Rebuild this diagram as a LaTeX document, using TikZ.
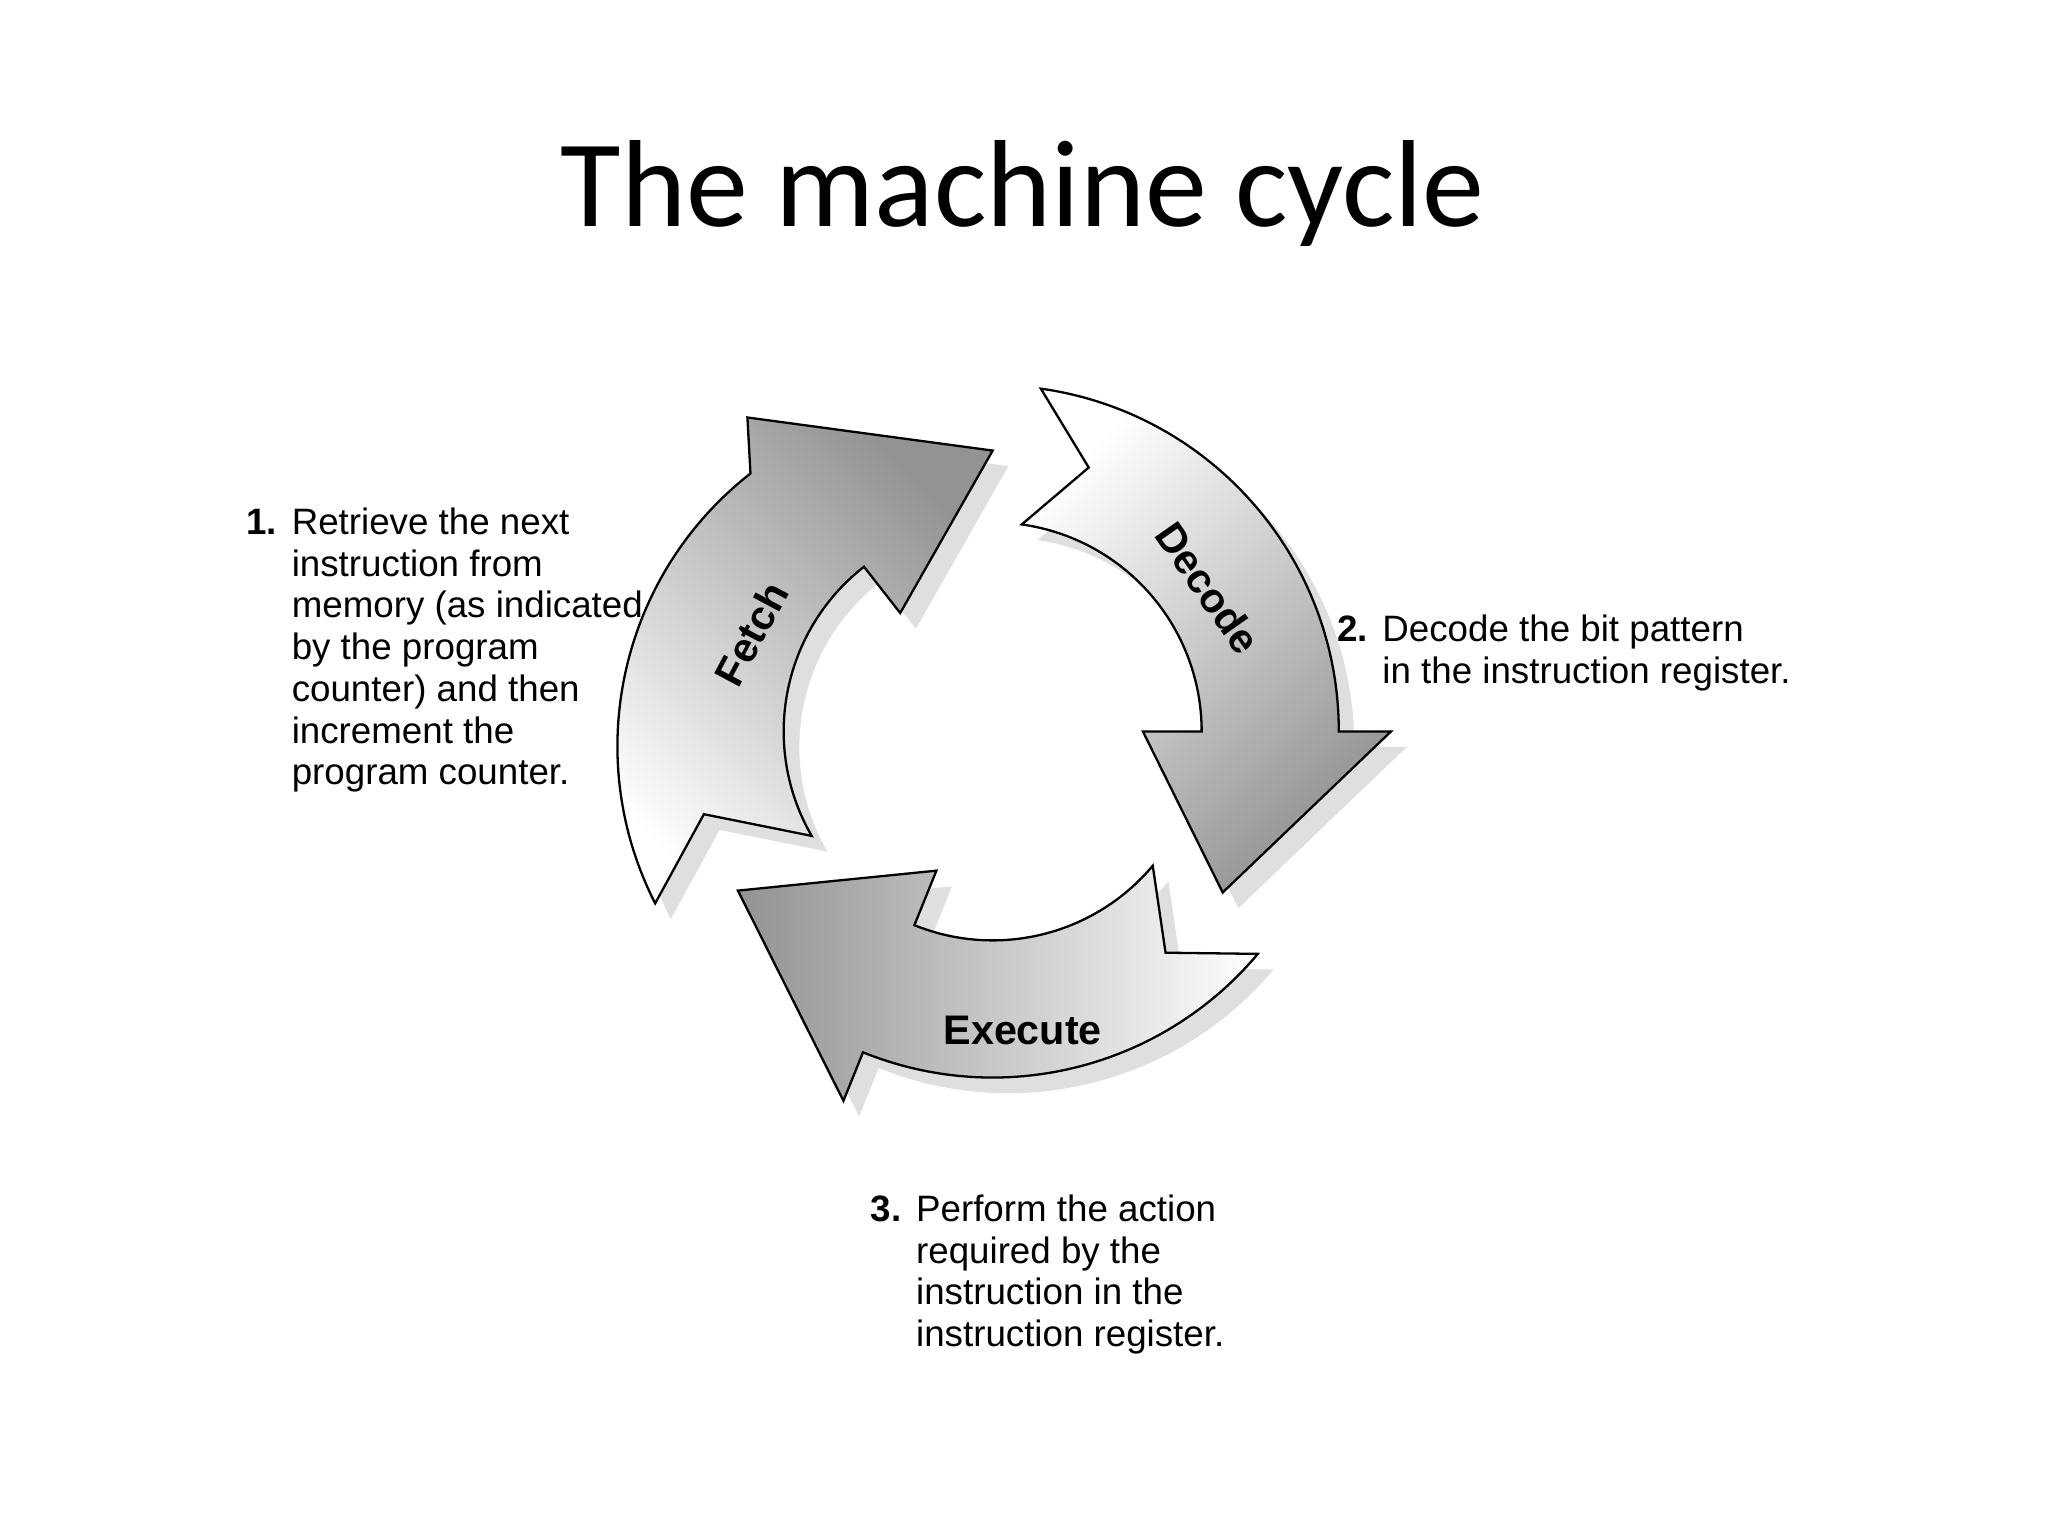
\documentclass[tikz,border=0pt]{standalone}
\usepackage{fontspec}
\setmainfont{Liberation Sans}
\newfontfamily\titlefont{Carlito}
\usetikzlibrary{shadows,calc}
\begin{document}
\begin{tikzpicture}[
  arr/.style={draw=black, line width=0.5pt, drop shadow={opacity=0.25, shadow xshift=0.12cm, shadow yshift=-0.12cm}},
  lab/.style={font=\bfseries\fontsize{9}{11}\selectfont},
  txt/.style={font=\fontsize{8}{9.1}\selectfont, anchor=north west, inner sep=0pt}
]
\useasboundingbox (0,0) rectangle (15.68,11.76);
\fill[white] (0,0) rectangle (15.68,11.76);
\coordinate (C) at (7.6,6.16);
\def\ri{1.6}\def\ro{2.65}\def\hi{1.15}\def\ho{3.05}\def\rm{2.15}
% Fetch
\path[arr, top color=gray!85, bottom color=white, shading angle=-45]
  ($(C)+(207:2.9)$) arc[start angle=207, end angle=128, radius=\ro]
  -- ($(C)+(128:\ho)$) -- ($(C)+(90:\rm)$) -- ($(C)+(128:\hi)$)
  -- ($(C)+(128:\ri)$) arc[start angle=128, end angle=210, radius=\ri]
  -- ($(C)+(196:2.3)$) -- cycle;
% Decode
\path[arr, top color=white, bottom color=gray!85, shading angle=45]
  ($(C)+(82:\ro)$) arc[start angle=82, end angle=0, radius=\ro]
  -- ($(C)+(0:\ho)$) -- ($(C)+(-35:\rm)$) -- ($(C)+(0:\hi)$)
  -- ($(C)+(0:\ri)$) arc[start angle=0, end angle=82, radius=\ri]
  -- ($(C)+(70:\rm)$) -- cycle;
% Execute
\path[arr, top color=white, bottom color=gray!85, shading angle=-90]
  ($(C)+(-40:\ro)$) arc[start angle=-40, end angle=-112, radius=\ro]
  -- ($(C)+(-112:\ho)$) -- ($(C)+(-148:2.3)$) -- ($(C)+(-112:\hi)$)
  -- ($(C)+(-112:\ri)$) arc[start angle=-112, end angle=-40, radius=\ri]
  -- ($(C)+(-52:\rm)$) -- cycle;
\node[lab, rotate=62] (fetch) at (5.75,6.91) {Fetch};
\node[lab, rotate=-55] (decode) at (9.25,7.26) {Decode};
\node[lab] (execute) at (7.83,3.87) {Execute};
\node[font=\titlefont\fontsize{27}{32}\selectfont] (title) at (7.83,10.28) {The machine cycle};
\node[txt] (t1) at (1.88,7.9) {\begin{tabular}{@{}l@{\hspace{0.4em}}l@{}}
\textbf{1.} & Retrieve the next\\ & instruction from\\ & memory (as indicated\\ & by the program\\ & counter) and then\\ & increment the\\ & program counter.\end{tabular}};
\node[txt] (t2) at (10.23,7.08) {\begin{tabular}{@{}l@{\hspace{0.4em}}l@{}}
\textbf{2.} & Decode the bit pattern\\ & in the instruction register.\end{tabular}};
\node[txt] (t3) at (6.66,2.64) {\begin{tabular}{@{}l@{\hspace{0.4em}}l@{}}
\textbf{3.} & Perform the action\\ & required by the\\ & instruction in the\\ & instruction register.\end{tabular}};
\end{tikzpicture}
\end{document}
